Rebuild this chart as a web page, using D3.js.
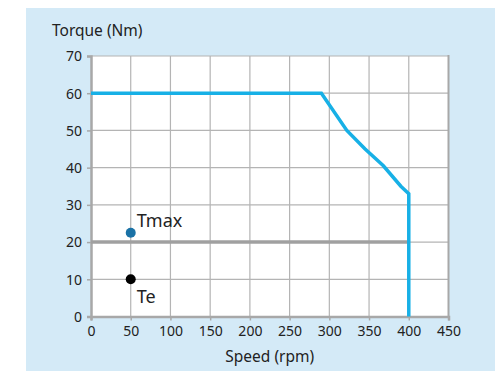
<!DOCTYPE html>
<html><head><meta charset="utf-8">
<script src="https://cdn.jsdelivr.net/npm/d3@7"></script>
<style>
html,body{margin:0;padding:0;background:#fff;}
svg{display:block;font-family:"Noto Sans",sans-serif;}
</style></head>
<body>
<svg id="c" width="503" height="371"></svg>
<script>
const xTicks = [0,50,100,150,200,250,300,350,400,450];
const yTicks = [0,10,20,30,40,50,60,70];
const curveSpeed  = [0, 290, 322, 345, 368, 390, 400, 400];
const curveTorque = [60, 60, 50, 45, 40.5, 35, 33, 0];
const ratedSpeed = [0, 400];
const ratedTorque = [20, 20];
const pointNames = ["Tmax", "Te"];
const pointSpeed = [50, 50];
const pointTorque = [22.5, 10];
const pointColors = ["#1a72a6", "#000000"];

const svg = d3.select("#c");
svg.append("rect").attr("x",26).attr("y",8).attr("width",469).attr("height",363).attr("fill","#d4eaf7");

const x = d3.scaleLinear().domain([0,450]).range([91,448.5]);
const y = d3.scaleLinear().domain([0,70]).range([316.5,56]);

svg.append("rect").attr("x",x(0)).attr("y",y(70)).attr("width",x(450)-x(0)).attr("height",y(0)-y(70)).attr("fill","#fff");

// grid
const g = svg.append("g");
g.selectAll(".vg").data(xTicks.slice(1,-1)).join("line")
 .attr("x1",d=>x(d)).attr("x2",d=>x(d)).attr("y1",y(70)).attr("y2",y(0))
 .attr("stroke","#b4b4b4").attr("stroke-width",1.2);
g.selectAll(".hg").data(yTicks.slice(1)).join("line")
 .attr("x1",x(0)).attr("x2",x(450)).attr("y1",d=>y(d)).attr("y2",d=>y(d))
 .attr("stroke","#b4b4b4").attr("stroke-width",1.2);
// right border
svg.append("line").attr("x1",x(450)).attr("x2",x(450)).attr("y1",y(70)-1).attr("y2",y(0))
 .attr("stroke","#a8a8a8").attr("stroke-width",2);

// axes
const xa = svg.append("g").attr("transform",`translate(0,${y(0)})`)
 .call(d3.axisBottom(x).tickValues(xTicks).tickSize(4).tickPadding(6).tickFormat(d3.format("d")));
const ya = svg.append("g").attr("transform",`translate(${x(0)},0)`)
 .call(d3.axisLeft(y).tickValues(yTicks).tickSize(4).tickPadding(5).tickFormat(d3.format("d")));
[xa,ya].forEach(a=>{
  a.select(".domain").attr("stroke","#a8a8a8").attr("stroke-width",2.5);
  a.selectAll(".tick line").attr("stroke","#a8a8a8").attr("stroke-width",1.5);
  a.selectAll("text").attr("fill","#222").style("font-size","14px").style("font-family","'Noto Sans',sans-serif");
});
ya.selectAll("text").attr("dy","0.35em");

// rated line at 20
const line = d3.line().x(d=>x(d[0])).y(d=>y(d[1]));
svg.append("path").datum(ratedSpeed.map((s,i)=>[s,ratedTorque[i]]))
 .attr("d",line).attr("fill","none").attr("stroke","#a0a0a0").attr("stroke-width",3.5);

// torque curve
svg.append("path").datum(curveSpeed.map((s,i)=>[s,curveTorque[i]]))
 .attr("d",line).attr("fill","none").attr("stroke","#17b0e6").attr("stroke-width",3.5)
 .attr("stroke-linejoin","miter");

// points
svg.selectAll(".pt").data(pointNames).join("circle")
 .attr("cx",(d,i)=>x(pointSpeed[i])).attr("cy",(d,i)=>y(pointTorque[i])).attr("r",5)
 .attr("fill",(d,i)=>pointColors[i]);
svg.selectAll(".pl").data(pointNames).join("text")
 .attr("x",(d,i)=>x(pointSpeed[i])+6)
 .attr("y",(d,i)=>i===0 ? y(pointTorque[i])-6 : y(pointTorque[i])+24)
 .attr("fill","#222").style("font-size","18px")
 .text(d=>d);

// titles
svg.append("text").attr("x",52).attr("y",36).attr("fill","#222").style("font-size","15.5px").text("Torque (Nm)");
svg.append("text").attr("x",(x(0)+x(450))/2).attr("y",362).attr("text-anchor","middle")
 .attr("fill","#222").style("font-size","15.5px").text("Speed (rpm)");
</script>
</body></html>
